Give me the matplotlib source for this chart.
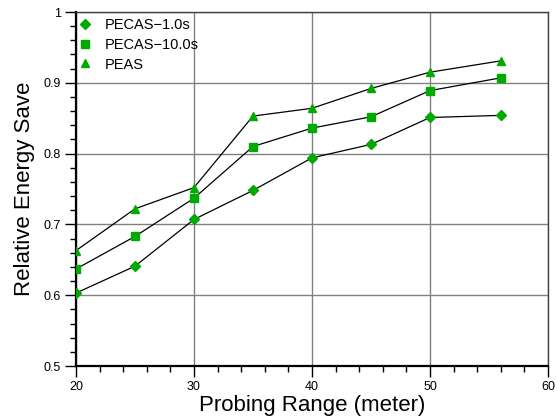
import matplotlib
matplotlib.use("Agg")
import matplotlib.pyplot as plt
from matplotlib.ticker import MultipleLocator

plt.rcParams["font.family"] = ["Liberation Sans", "DejaVu Sans"]

probing_range = [20, 25, 30, 35, 40, 45, 50, 56]
pecas_1s = [0.603, 0.641, 0.707, 0.748, 0.794, 0.813, 0.851, 0.854]
pecas_10s = [0.637, 0.683, 0.737, 0.810, 0.836, 0.852, 0.889, 0.907]
peas = [0.663, 0.722, 0.752, 0.853, 0.864, 0.892, 0.915, 0.931]

series = [
    ("PECAS\u22121.0s", pecas_1s, "D", 5.0),
    ("PECAS\u221210.0s", pecas_10s, "s", 5.5),
    ("PEAS", peas, "^", 6.0),
]

green = "#00aa00"

fig = plt.figure(figsize=(5.57, 4.17), dpi=100)
ax = fig.add_axes([0.1364, 0.1223, 0.8474, 0.8489])

for label, vals, marker, ms in series:
    ax.plot(probing_range, vals, color="black", linewidth=0.9, zorder=3)
    ax.plot(probing_range, vals, linestyle="none", marker=marker, markersize=ms,
            color=green, markeredgecolor=green, label=label, zorder=4)

ax.set_xlim(20, 60)
ax.set_ylim(0.5, 1.0)
ax.xaxis.set_major_locator(MultipleLocator(10))
ax.xaxis.set_minor_locator(MultipleLocator(2))
ax.yaxis.set_major_locator(MultipleLocator(0.1))
ax.yaxis.set_minor_locator(MultipleLocator(0.02))
ax.set_yticks([0.5, 0.6, 0.7, 0.8, 0.9, 1.0])
ax.set_yticklabels(["0.5", "0.6", "0.7", "0.8", "0.9", "1"])

ax.grid(True, which="major", color="#808080", linewidth=1.0, zorder=0)
ax.tick_params(which="major", direction="out", length=8, width=1, labelsize=9, pad=3)
ax.tick_params(which="minor", direction="out", length=4, width=1)

for side in ["left", "bottom"]:
    ax.spines[side].set_linewidth(1.6)
for side in ["top", "right"]:
    ax.spines[side].set_linewidth(1.0)
    ax.spines[side].set_color("#404040")

ax.set_xlabel("Probing Range (meter)", fontsize=16, labelpad=1)
ax.set_ylabel("Relative Energy Save", fontsize=16, labelpad=6)

ax.legend(loc="upper left", frameon=False, fontsize=10.5, handlelength=1.0,
          handletextpad=0.8, labelspacing=0.4, borderaxespad=0.0,
          bbox_to_anchor=(-0.008, 1.0))

fig.savefig("out.png", dpi=100)
